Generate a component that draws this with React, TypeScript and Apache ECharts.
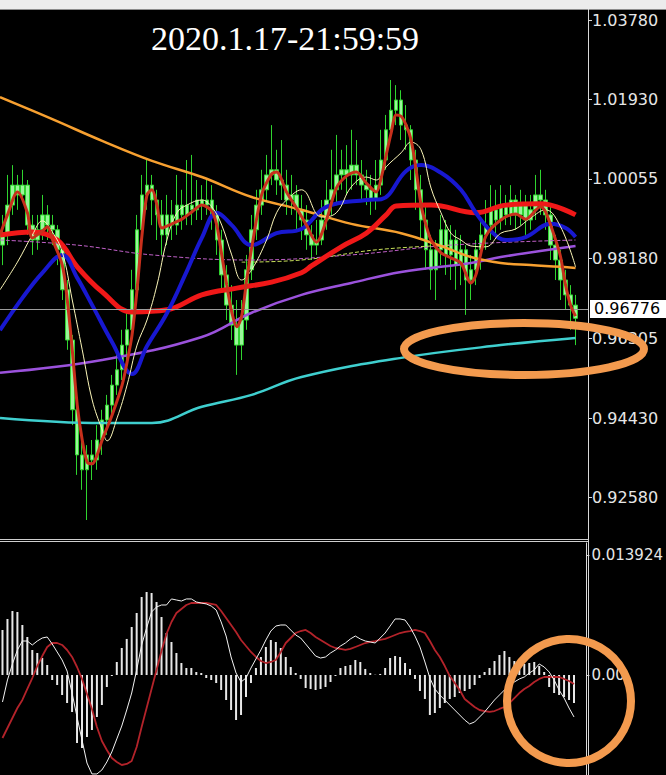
import React, { useEffect, useRef } from "react";
import * as echarts from "echarts";

// ---- price panel (candles, bar slots incl. 2 empty "chart shift" slots) ----
const slotCount = 118;
const categories = Array.from({ length: slotCount }, (_, i) => `#${i + 1}`);

const opens = [0.9850,0.9874,0.9944,0.9991,0.9968,0.9991,0.9897,0.9862,0.9886,0.9921,
0.9897,0.9886,0.9839,0.9745,0.9627,0.9463,0.9357,0.9322,0.9357,0.9345,
0.9392,0.9439,0.9474,0.9521,0.9557,0.9615,0.9651,0.9745,0.9886,0.9968,
0.9991,0.9956,0.9921,0.9874,0.9921,0.9897,0.9944,0.9921,0.9944,0.9933,
0.9956,0.9944,0.9956,0.9921,0.9862,0.9780,0.9709,0.9662,0.9615,0.9674,
0.9792,0.9886,0.9944,0.9980,1.0015,1.0027,1.0003,0.9991,0.9956,0.9968,
0.9933,0.9909,0.9874,0.9850,0.9862,0.9909,0.9956,0.9980,1.0015,1.0027,
1.0015,1.0038,1.0015,0.9991,0.9980,0.9956,0.9991,1.0050,1.0121,1.0167,
1.0191,1.0132,1.0121,1.0050,0.9980,0.9909,0.9839,0.9792,0.9839,0.9886,
0.9827,0.9862,0.9803,0.9839,0.9768,0.9792,0.9839,0.9874,0.9897,0.9933,
0.9909,0.9944,0.9921,0.9956,0.9921,0.9944,0.9909,0.9933,0.9968,0.9956,
0.9921,0.9850,0.9815,0.9768,0.9733,0.9709];
const closes = [0.9874,0.9944,0.9991,0.9968,0.9991,0.9897,0.9862,0.9886,0.9921,0.9897,
0.9886,0.9839,0.9745,0.9627,0.9463,0.9357,0.9322,0.9357,0.9345,0.9392,
0.9439,0.9474,0.9521,0.9557,0.9615,0.9651,0.9745,0.9886,0.9968,0.9991,
0.9956,0.9921,0.9874,0.9921,0.9897,0.9944,0.9921,0.9944,0.9933,0.9956,
0.9944,0.9956,0.9921,0.9862,0.9780,0.9709,0.9662,0.9615,0.9674,0.9792,
0.9886,0.9944,0.9980,1.0015,1.0027,1.0003,0.9991,0.9956,0.9968,0.9933,
0.9909,0.9874,0.9850,0.9862,0.9909,0.9956,0.9980,1.0015,1.0027,1.0015,
1.0038,1.0015,0.9991,0.9980,0.9956,0.9991,1.0050,1.0121,1.0167,1.0191,
1.0132,1.0121,1.0050,0.9980,0.9909,0.9839,0.9792,0.9839,0.9886,0.9827,
0.9862,0.9803,0.9839,0.9768,0.9792,0.9839,0.9874,0.9897,0.9933,0.9909,
0.9944,0.9921,0.9956,0.9921,0.9944,0.9909,0.9933,0.9968,0.9956,0.9921,
0.9850,0.9815,0.9768,0.9733,0.9709,0.9678];
const lows = [0.9803,0.9850,0.9921,0.9933,0.9956,0.9874,0.9827,0.9839,0.9862,0.9862,
0.9850,0.9803,0.9721,0.9604,0.9427,0.9310,0.9275,0.9204,0.9298,0.9322,
0.9357,0.9404,0.9451,0.9498,0.9533,0.9580,0.9627,0.9721,0.9862,0.9933,
0.9897,0.9862,0.9827,0.9850,0.9862,0.9874,0.9886,0.9897,0.9897,0.9909,
0.9909,0.9921,0.9886,0.9827,0.9745,0.9674,0.9627,0.9545,0.9580,0.9651,
0.9768,0.9862,0.9921,0.9956,0.9991,0.9968,0.9956,0.9921,0.9921,0.9886,
0.9862,0.9839,0.9815,0.9827,0.9850,0.9886,0.9921,0.9944,0.9980,0.9968,
0.9980,0.9991,0.9956,0.9944,0.9921,0.9933,0.9968,1.0027,1.0097,1.0132,
1.0097,1.0074,1.0003,0.9933,0.9862,0.9792,0.9745,0.9721,0.9803,0.9780,
0.9768,0.9745,0.9756,0.9686,0.9721,0.9756,0.9792,0.9839,0.9862,0.9874,
0.9886,0.9897,0.9897,0.9886,0.9897,0.9874,0.9886,0.9909,0.9921,0.9886,
0.9815,0.9768,0.9721,0.9698,0.9651,0.9615];
const highs = [0.9921,1.0015,1.0038,1.0015,1.0027,1.0003,0.9921,0.9921,0.9968,0.9944,
0.9921,0.9897,0.9850,0.9768,0.9639,0.9486,0.9392,0.9380,0.9392,0.9427,
0.9463,0.9498,0.9545,0.9592,0.9651,0.9698,0.9792,0.9921,1.0015,1.0050,
1.0015,0.9980,0.9956,0.9968,0.9956,1.0015,0.9980,1.0050,1.0062,1.0003,
0.9991,1.0003,0.9991,0.9944,0.9886,0.9803,0.9756,0.9721,0.9721,0.9827,
0.9921,0.9980,1.0027,1.0062,1.0132,1.0074,1.0097,1.0027,1.0015,0.9991,
0.9968,0.9944,0.9897,0.9909,0.9956,1.0003,1.0074,1.0109,1.0074,1.0085,
1.0121,1.0097,1.0050,1.0027,1.0015,1.0050,1.0121,1.0156,1.0238,1.0226,
1.0214,1.0179,1.0132,1.0074,1.0015,0.9944,0.9874,0.9862,0.9921,0.9909,
0.9897,0.9886,0.9874,0.9850,0.9827,0.9862,0.9909,0.9956,0.9991,0.9980,
0.9991,0.9968,0.9991,0.9968,0.9980,0.9968,0.9968,1.0015,1.0027,0.9980,
0.9944,0.9874,0.9839,0.9792,0.9756,0.9733];

const currentPrice = 0.96776;
const priceTicks = [0.9258, 0.9443, 0.96305, 0.9818, 1.00055, 1.0193, 1.0378];

// moving averages read as [bar index, price]
const orangeMA = [[-0.5,1.0198],[10,1.0146],[20,1.0095],[30,1.0048],[40,1.0010],[50,0.9963],[60,0.9933],[70,0.9900],[80,0.9878],[88,0.9848],[94,0.9822],[100,0.9808],[106,0.9803],[112,0.9799],[115,0.9796]];
const redMA = [[-0.5,0.9874],[6,0.9881],[11,0.9862],[15,0.9799],[20,0.9740],[26,0.9693],[33,0.9698],[40,0.9733],[47,0.9749],[54,0.9763],[60,0.9785],[62,0.9801],[68,0.9846],[73,0.9878],[77,0.9921],[79,0.9942],[86,0.9944],[95,0.9926],[101,0.9944],[108,0.9947],[115,0.9921]];
const blueMA = [[-0.5,0.9650],[4,0.9726],[8,0.9785],[12,0.9827],[15,0.9773],[18,0.9709],[22,0.9622],[26,0.9547],[29,0.9613],[33,0.9690],[37,0.9789],[40,0.9867],[43,0.9926],[46,0.9897],[50,0.9850],[55,0.9878],[60,0.9888],[65,0.9940],[73,0.9956],[76,0.9958],[81,1.0024],[84,1.0038],[88,1.0020],[92,0.9980],[95,0.9926],[98,0.9883],[101,0.9862],[105,0.9869],[110,0.9900],[113,0.9890],[115,0.9869]];
const purpleMA = [[-0.5,0.9550],[20,0.9580],[40,0.9634],[50,0.9691],[60,0.9733],[70,0.9761],[80,0.9787],[94,0.9808],[100,0.9822],[115,0.9848]];
const cyanMA = [[-0.5,0.9444],[20,0.9432],[30,0.9432],[40,0.9470],[50,0.9498],[60,0.9540],[80,0.9585],[100,0.9615],[115,0.9632]];
const fastMA = [[-0.5,0.9874],[1,0.9921],[3,0.9975],[5,0.9926],[6,0.9867],[8,0.9883],[9,0.9893],[10,0.9864],[12,0.9803],[13,0.9721],[14,0.9604],[15,0.9474],[16,0.9392],[17,0.9340],[18,0.9336],[19,0.9357],[20,0.9392],[22,0.9451],[24,0.9521],[25,0.9575],[26,0.9639],[27,0.9745],[28,0.9874],[29,0.9968],[30,0.9980],[31,0.9944],[32,0.9890],[34,0.9900],[36,0.9911],[38,0.9928],[40,0.9944],[42,0.9930],[43,0.9897],[44,0.9827],[45,0.9756],[46,0.9693],[47,0.9658],[48,0.9683],[49,0.9768],[50,0.9843],[52,0.9968],[54,1.0017],[55,1.0022],[57,0.9975],[59,0.9937],[61,0.9897],[63,0.9857],[65,0.9909],[67,0.9984],[69,1.0012],[71,1.0022],[73,0.9996],[75,0.9975],[76,1.0008],[77,1.0062],[78,1.0114],[79,1.0156],[80,1.0153],[81,1.0132],[82,1.0097],[83,1.0027],[84,0.9944],[85,0.9897],[86,0.9862],[88,0.9832],[90,0.9820],[92,0.9808],[94,0.9761],[95,0.9780],[97,0.9871],[100,0.9909],[103,0.9923],[105,0.9911],[108,0.9940],[109,0.9928],[111,0.9862],[112,0.9822],[113,0.9756],[114,0.9709],[115,0.9683]];
const thinMA = [[-0.5,0.9745],[3,0.9810],[6,0.9874],[8,0.9907],[10,0.9881],[12,0.9834],[14,0.9721],[16,0.9604],[18,0.9486],[20,0.9416],[21,0.9390],[23,0.9444],[25,0.9521],[27,0.9615],[29,0.9674],[31,0.9756],[33,0.9862],[35,0.9926],[37,0.9944],[40,0.9956],[42,0.9940],[44,0.9897],[46,0.9827],[48,0.9768],[50,0.9792],[53,0.9862],[55,0.9926],[57,0.9956],[60,0.9980],[64,0.9916],[67,0.9926],[70,0.9987],[73,1.0010],[75,1.0003],[77,1.0034],[80,1.0067],[82,1.0092],[84,1.0074],[86,0.9984],[88,0.9926],[90,0.9878],[92,0.9862],[94,0.9848],[97,0.9846],[100,0.9878],[103,0.9888],[106,0.9914],[109,0.9933],[112,0.9893],[115,0.9799]];
const pinkDashed = [[-0.5,0.9862],[15,0.9850],[30,0.9827],[50,0.9815],[70,0.9827],[90,0.9850],[115,0.9862]];
const limeDashed = [[48,0.9810],[60,0.9815],[75,0.9839],[90,0.9850]];

// ---- MACD panel (values in units of 0.0001) ----
const macdHist = [52.2,65.0,74.2,73.1,58.0,44.1,29.0,25.5,19.7,11.6,
-5.8,-11.6,-23.2,-32.5,-42.9,-78.9,-84.7,-71.9,-63.8,-48.7,
-34.8,-13.9,-1.2,15.1,31.3,41.8,55.7,71.9,90.5,96.3,
95.1,84.7,67.3,48.7,38.3,25.5,13.9,8.1,8.1,3.5,
2.3,-3.5,-5.8,-9.3,-17.4,-29.0,-40.6,-52.2,-46.4,-25.5,
-9.3,8.1,20.9,32.5,40.6,38.3,31.3,20.9,9.3,2.3,
-4.6,-15.1,-16.2,-17.4,-16.2,-13.9,-8.1,-1.2,8.1,10.4,
11.6,17.4,15.1,7.0,2.3,0.3,1.2,8.1,19.7,22.0,
20.9,13.9,7.0,-4.6,-18.6,-27.8,-46.4,-44.1,-38.3,-32.5,
-27.8,-25.5,-20.9,-18.6,-16.2,-11.6,-3.5,3.5,8.1,16.2,
23.2,27.8,20.9,16.2,13.9,12.8,13.9,15.1,10.4,3.5,
-13.9,-20.9,-23.2,-25.5,-29.0,-32.5];
const macdLine = [-31.3,-5.8,12.8,29.0,39.4,39.4,34.8,39.4,42.9,44.1,
36.0,26.7,17.4,4.6,-20.9,-48.7,-75.4,-102.1,-114.8,-114.8,
-110.2,-100.9,-89.3,-74.2,-59.2,-40.6,-20.9,5.8,34.8,54.5,
73.1,78.9,81.2,81.2,88.2,87.0,85.8,88.2,88.2,84.7,
83.5,82.4,80.0,75.4,61.5,45.2,20.9,2.3,-8.1,-3.5,
8.1,18.6,29.0,40.6,51.0,56.8,58.0,58.0,52.2,46.4,
42.9,36.0,29.0,22.0,19.7,20.9,25.5,29.0,33.6,37.1,
41.8,45.2,41.8,39.4,38.3,37.1,42.9,48.7,56.8,65.0,
65.0,63.8,55.7,45.2,32.5,15.1,-3.5,-16.2,-23.2,-29.0,
-34.8,-40.6,-46.4,-52.2,-56.8,-54.5,-48.7,-42.9,-36.0,-29.0,
-23.2,-17.4,-11.6,-8.1,-4.6,-2.3,2.3,5.8,12.8,9.3,
3.5,-5.8,-17.4,-26.7,-38.3,-48.7];
const signalLine = [-73.1,-61.5,-49.9,-38.3,-29.0,-16.2,-3.5,10.4,22.0,32.5,
37.1,37.1,34.8,29.0,20.9,9.3,-4.6,-22.0,-39.4,-60.3,
-76.6,-87.0,-96.3,-100.9,-104.4,-103.2,-99.8,-83.5,-60.3,-38.3,
-16.2,5.8,27.8,47.6,61.5,71.9,76.6,81.2,83.5,83.5,
83.5,83.5,82.4,81.2,74.2,66.1,58.0,49.9,40.6,33.6,
26.7,20.9,16.2,13.9,15.1,17.4,26.7,37.1,42.9,48.7,
51.0,52.2,48.7,44.1,40.6,37.1,33.6,31.3,30.2,29.0,
30.2,32.5,34.8,37.1,38.3,39.4,40.6,41.8,44.1,46.4,
48.7,49.9,51.0,52.2,51.0,48.7,39.4,29.0,20.9,10.4,
-1.2,-9.3,-17.4,-27.8,-32.5,-37.1,-40.6,-41.8,-42.9,-41.8,
-39.4,-37.1,-32.5,-26.7,-20.9,-16.2,-12.8,-8.1,-4.6,-2.3,
-2.3,-2.3,-2.3,-4.6,-7.0,-10.4];
const macdTicks = [0, 139.24];
const macdTickLabels = ["0.00", "0.013924"];

const titleText = "2020.1.17-21:59:59";

const AXIS_FONT = "DejaVu Sans";

function maLine(data: number[][], color: string, width: number, z = 3, smooth: number | boolean = 0.4, type = "solid") {
  return {
    type: "line",
    xAxisIndex: 1,
    yAxisIndex: 0,
    data,
    smooth,
    showSymbol: false,
    symbol: "none",
    silent: true,
    z,
    lineStyle: { color, width, type },
  };
}

export default function App() {
  const ref = useRef<HTMLDivElement>(null);
  useEffect(() => {
    document.body.style.margin = "0";
    document.body.style.background = "#000";
    const chart = echarts.init(ref.current!, null, { renderer: "svg" });
    const candleData = opens.map((o, i) => [o, closes[i], lows[i], highs[i]]);
    const option: any = {
      animation: false,
      backgroundColor: "#000000",
      grid: [
        { left: 0, top: 11, width: 588, height: 527 },
        { left: 0, top: 543, width: 588, height: 232 },
      ],
      xAxis: [
        { type: "category", gridIndex: 0, data: categories, boundaryGap: true, show: false },
        { type: "value", gridIndex: 0, min: -0.5, max: slotCount - 0.5, show: false },
        { type: "category", gridIndex: 1, data: categories, boundaryGap: true, show: false },
      ],
      yAxis: [
        {
          type: "value",
          gridIndex: 0,
          position: "right",
          min: 0.91617,
          max: 1.04002,
          splitLine: { show: false },
          axisLine: { show: true, onZero: false, lineStyle: { color: "#d8d8d8", width: 1 } },
          axisTick: { show: true, customValues: priceTicks, length: 4, lineStyle: { color: "#d8d8d8" } },
          axisLabel: {
            customValues: priceTicks,
            formatter: (v: number) => v.toFixed(5),
            color: "#e6e6e6",
            fontFamily: AXIS_FONT,
            fontSize: 16,
            margin: 4,
          },
        },
        {
          type: "value",
          gridIndex: 1,
          position: "right",
          min: -116,
          max: 153.1,
          splitLine: { show: false },
          axisLine: { show: true, onZero: false, lineStyle: { color: "#d8d8d8", width: 1 } },
          axisTick: { show: true, customValues: macdTicks, length: 3, lineStyle: { color: "#d8d8d8" } },
          axisLabel: {
            customValues: macdTicks,
            formatter: (v: number) => macdTickLabels[macdTicks.indexOf(v)] ?? (v === 0 ? "0.00" : "0.013924"),
            color: "#e6e6e6",
            fontFamily: AXIS_FONT,
            fontSize: 15,
            margin: 5,
          },
        },
      ],
      series: [
        {
          type: "candlestick",
          xAxisIndex: 0,
          yAxisIndex: 0,
          data: candleData,
          barWidth: 4,
          z: 2,
          itemStyle: {
            color: "#9af59a",
            color0: "#9af59a",
            borderColor: "#2fd42f",
            borderColor0: "#2fd42f",
            borderWidth: 1,
          },
          markLine: {
            silent: true,
            symbol: ["none", "none"],
            animation: false,
            data: [{ yAxis: currentPrice }],
            lineStyle: { color: "#9c9c9c", width: 1, type: "solid" },
            label: {
              show: true,
              position: "end",
              distance: 2,
              formatter: currentPrice.toFixed(5),
              backgroundColor: "#ffffff",
              color: "#000000",
              fontFamily: AXIS_FONT,
              fontSize: 16,
              padding: [1, 10, 1, 4],
            },
          },
        },
        maLine(cyanMA, "#3fcfcf", 2.5, 3),
        maLine(purpleMA, "#9b52dc", 2.5, 3),
        maLine(pinkDashed, "#c060c8", 1, 3, 0.4, "dashed"),
        maLine(limeDashed, "#c8e05a", 1, 3, 0.4, "dashed"),
        maLine(orangeMA, "#f7a030", 2.5, 3),
        maLine(redMA, "#f01818", 5, 4),
        maLine(blueMA, "#1818d0", 4, 4),
        maLine(thinMA, "#fbf6b8", 1, 5),
        maLine(fastMA, "#c8301c", 3, 6, 0.3),
        {
          type: "bar",
          xAxisIndex: 2,
          yAxisIndex: 1,
          data: macdHist,
          barWidth: 2,
          silent: true,
          itemStyle: { color: "#e8e8e8" },
        },
        {
          type: "line",
          xAxisIndex: 2,
          yAxisIndex: 1,
          data: signalLine,
          showSymbol: false,
          symbol: "none",
          silent: true,
          lineStyle: { color: "#b3232a", width: 1.8 },
        },
        {
          type: "line",
          xAxisIndex: 2,
          yAxisIndex: 1,
          data: macdLine,
          showSymbol: false,
          symbol: "none",
          silent: true,
          lineStyle: { color: "#f2f2f2", width: 1 },
        },
      ],
      graphic: [
        { type: "rect", silent: true, z: 50, shape: { x: 0, y: 0, width: 666, height: 9 }, style: { fill: "#ececec" } },
        { type: "line", silent: true, z: 50, shape: { x1: 0, y1: 9.5, x2: 666, y2: 9.5 }, style: { stroke: "#8c8c8c", lineWidth: 1 } },
        { type: "line", silent: true, z: 50, shape: { x1: 588.5, y1: 9, x2: 588.5, y2: 775 }, style: { stroke: "#d8d8d8", lineWidth: 1 } },
        { type: "line", silent: true, z: 50, shape: { x1: 0, y1: 539.5, x2: 589, y2: 539.5 }, style: { stroke: "#cfcfcf", lineWidth: 1.2 } },
        { type: "line", silent: true, z: 50, shape: { x1: 0, y1: 541.5, x2: 589, y2: 541.5 }, style: { stroke: "#cfcfcf", lineWidth: 1.2 } },
        {
          type: "text",
          silent: true,
          z: 50,
          x: 285,
          y: 38,
          style: {
            text: titleText,
            fill: "#ffffff",
            font: "34px 'Liberation Serif'",
            textAlign: "center",
            textVerticalAlign: "middle",
          },
        },
        {
          type: "ellipse",
          silent: true,
          z: 60,
          shape: { cx: 524, cy: 349, rx: 120, ry: 26 },
          style: { fill: "none", stroke: "#f39a4e", lineWidth: 8 },
        },
        {
          type: "circle",
          silent: true,
          z: 60,
          shape: { cx: 569, cy: 701, r: 62 },
          style: { fill: "none", stroke: "#f39a4e", lineWidth: 8 },
        },
      ],
    };
    chart.setOption(option);
    return () => chart.dispose();
  }, []);
  return <div ref={ref} style={{ width: 666, height: 775 }} />;
}
